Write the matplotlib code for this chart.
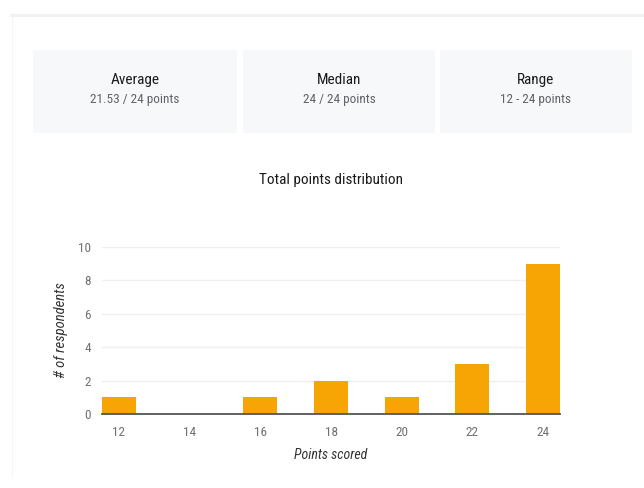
import matplotlib.pyplot as plt
from matplotlib.patches import Rectangle
from matplotlib import font_manager

# Score distribution data
scores = ["12", "14", "16", "18", "20", "22", "24"]
respondents = [1, 0, 1, 2, 1, 3, 9]
y_ticks = [0, 2, 4, 6, 8, 10]

# Summary cards
card_titles = ["Average", "Median", "Range"]
card_values = ["21.53 / 24 points", "24 / 24 points", "12 - 24 points"]

names = {f.name for f in font_manager.fontManager.ttflist}
family = "Roboto"
for cand in ["Roboto Condensed", "Liberation Sans Narrow", "Open Sans Condensed"]:
    if cand in names:
        family = cand
        break
plt.rcParams["font.family"] = [family, "DejaVu Sans"]

W, H = 644, 488
fig = plt.figure(figsize=(W / 100, H / 100), dpi=100)
fig.patch.set_facecolor("white")

def px(x, y, w, h):
    return (x / W, 1 - (y + h) / H, w / W, h / H)

# faint page divider and card edge
fig.patches.append(Rectangle(px(10, 14, 634, 3)[:2], 634 / W, 3 / H,
                             transform=fig.transFigure, color="#f2f2f2", lw=0))
fig.patches.append(Rectangle(px(12, 17, 1, 460)[:2], 1 / W, 460 / H,
                             transform=fig.transFigure, color="#f5f5f5", lw=0))

cards = [(33, 204), (243, 192), (440, 192)]
for (cx, cw), title, value in zip(cards, card_titles, card_values):
    x0, y0, w, h = px(cx, 50, cw, 83)
    fig.patches.append(Rectangle((x0, y0), w, h, transform=fig.transFigure,
                                 color="#f7f8f9", lw=0))
    mid = (cx + cw / 2) / W
    fig.text(mid, 1 - 80 / H, title, ha="center", va="center",
             fontsize=11, color="#1a1a1a")
    fig.text(mid, 1 - 100 / H, value, ha="center", va="center",
             fontsize=9.5, color="#5f6368")

fig.text(331 / W, 1 - 180 / H, "Total points distribution", ha="center",
         va="center", fontsize=11, color="#1a1a1a")

ax = fig.add_axes(px(102, 247, 458, 167))
bar_w = 0.48
ax.bar(range(len(scores)), respondents, width=bar_w, color="#f6a505", zorder=2)
ax.set_xlim(-bar_w / 2, len(scores) - 1 + bar_w / 2)
ax.set_ylim(0, 10)
ax.set_xticks(range(len(scores)))
ax.set_xticklabels(scores)
ax.set_yticks(y_ticks)
ax.grid(axis="y", color="#efefef", lw=1, zorder=0)
for s in ["top", "right", "left"]:
    ax.spines[s].set_visible(False)
ax.spines["bottom"].set_color("#555555")
ax.spines["bottom"].set_linewidth(1.3)
ax.spines["bottom"].set_zorder(3)
ax.tick_params(length=0, labelsize=9.5, colors="#707070")
ax.tick_params(axis="x", pad=9)
ax.tick_params(axis="y", pad=8)
ax.set_xlabel("Points scored", fontsize=10, style="italic", color="#333333", labelpad=6)
ax.set_ylabel("# of respondents", fontsize=10.5, style="italic", color="#333333", labelpad=7)

fig.savefig("out.png", dpi=100)
